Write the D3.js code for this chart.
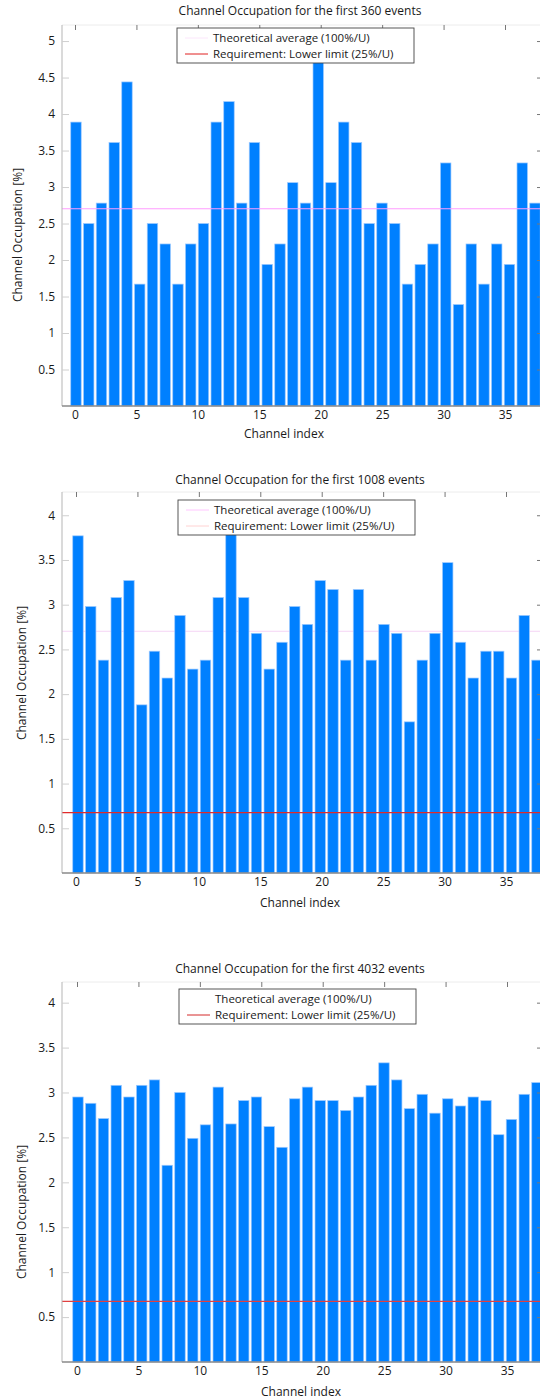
<!DOCTYPE html>
<html>
<head>
<meta charset="utf-8">
<script src="https://cdn.jsdelivr.net/npm/d3@7/dist/d3.min.js"></script>
<style>
  html, body { margin: 0; padding: 0; background: #fff; }
  svg { display: block; font-family: "Open Sans", sans-serif; }
</style>
</head>
<body>
<svg id="chart" width="540" height="1399"></svg>
<script>
// Channel indices 0..36 (U = 37 channels)
const channels = d3.range(37);
const xTickValues = [0, 5, 10, 15, 20, 25, 30, 35];

// Occupation per channel [%]
const occupation360 = [
  3.89, 2.50, 2.78, 3.61, 4.44, 1.67, 2.50, 2.22, 1.67, 2.22,
  2.50, 3.89, 4.17, 2.78, 3.61, 1.94, 2.22, 3.06, 2.78, 4.72,
  3.06, 3.89, 3.61, 2.50, 2.78, 2.50, 1.67, 1.94, 2.22, 3.33,
  1.39, 2.22, 1.67, 2.22, 1.94, 3.33, 2.78
];
const occupation1008 = [
  3.77, 2.98, 2.38, 3.08, 3.27, 1.88, 2.48, 2.18, 2.88, 2.28,
  2.38, 3.08, 3.87, 3.08, 2.68, 2.28, 2.58, 2.98, 2.78, 3.27,
  3.17, 2.38, 3.17, 2.38, 2.78, 2.68, 1.69, 2.38, 2.68, 3.47,
  2.58, 2.18, 2.48, 2.48, 2.18, 2.88, 2.38
];
const occupation4032 = [
  2.95, 2.88, 2.71, 3.08, 2.95, 3.08, 3.14, 2.19, 3.00, 2.49,
  2.64, 3.06, 2.65, 2.91, 2.95, 2.62, 2.39, 2.93, 3.06, 2.91,
  2.91, 2.80, 2.95, 3.08, 3.33, 3.14, 2.82, 2.98, 2.77, 2.93,
  2.85, 2.95, 2.91, 2.53, 2.70, 2.98, 3.11
];

const yTicks5 = [0.5, 1, 1.5, 2, 2.5, 3, 3.5, 4, 4.5, 5];
const yTicks4 = [0.5, 1, 1.5, 2, 2.5, 3, 3.5, 4];

const U = channels.length;
const theoreticalAverage = 100 / U;      // 100%/U
const lowerLimit = 25 / U;               // 25%/U

const legendLabels = ["Theoretical average (100%/U)", "Requirement: Lower limit (25%/U)"];

const svg = d3.select("#chart");
const FONT = "12px";

function drawPanel(o) {
  const g = svg.append("g");
  const left = 62, right = 542;

  const y = d3.scaleLinear().domain([0, o.yMax]).range([o.bottom, o.top]);
  const xBand = d3.scaleBand().domain(channels)
    .range([o.barStart, o.barStart + 12.75 * U]).paddingInner(0.18).paddingOuter(0.09);
  const xTick = d3.scaleLinear().domain([0, 35]).range([o.tick0, o.tick0 + 430]);

  // frame
  g.append("line").attr("x1", left).attr("x2", right).attr("y1", o.top).attr("y2", o.top)
    .attr("stroke", "#ececec").attr("stroke-width", 1);

  // theoretical average behind bars
  if (o.avgBehind) {
    g.append("line").attr("x1", left).attr("x2", right)
      .attr("y1", y(theoreticalAverage)).attr("y2", y(theoreticalAverage))
      .attr("stroke", o.avgColor).attr("stroke-width", 1);
  }

  // bars
  g.append("g").selectAll("rect").data(o.values).join("rect")
    .attr("x", (d, i) => xBand(i))
    .attr("width", xBand.bandwidth())
    .attr("y", d => y(d))
    .attr("height", d => y(0) - y(d))
    .attr("fill", "#0080ff")
    .attr("stroke", "#9cc9ff")
    .attr("stroke-width", 0.7);

  // overlay lines
  if (o.avgFront) {
    g.append("line").attr("x1", left).attr("x2", right)
      .attr("y1", y(theoreticalAverage)).attr("y2", y(theoreticalAverage))
      .attr("stroke", o.avgColor).attr("stroke-width", 1.2);
  }
  if (o.limitFront) {
    g.append("line").attr("x1", left).attr("x2", right)
      .attr("y1", y(lowerLimit)).attr("y2", y(lowerLimit))
      .attr("stroke", o.limitColor).attr("stroke-width", 1.2);
  }

  // left axis
  const yAxis = g.append("g").attr("transform", `translate(${left},0)`)
    .call(d3.axisRight(y).tickValues(o.yTicks).tickSize(7).tickFormat(d3.format("~g")));
  yAxis.select(".domain").attr("stroke", "#b5b5b5").attr("d", `M0,${o.top}V${o.bottom}`);
  yAxis.selectAll(".tick line").attr("stroke", "#cfcfcf");
  yAxis.selectAll(".tick text").attr("x", -7).attr("text-anchor", "end")
    .attr("fill", "#1a1a1a").style("font-size", FONT).style("font-family", "Open Sans");

  // right axis ticks at the plot edge
  const yAxisR = g.append("g").attr("transform", `translate(${right},0)`)
    .call(d3.axisLeft(y).tickValues(o.yTicks).tickSize(5).tickFormat(""));
  yAxisR.select(".domain").remove();
  yAxisR.selectAll(".tick line").attr("stroke", "#777");

  // bottom axis
  const xAxis = g.append("g").attr("transform", `translate(0,${o.bottom})`)
    .call(d3.axisBottom(xTick).tickValues(xTickValues).tickSize(0).tickPadding(4));
  xAxis.select(".domain").attr("stroke", "#8a8a8a").attr("stroke-width", 1.3)
    .attr("d", `M${left},0H${right}`);
  xAxis.selectAll(".tick text").attr("fill", "#1a1a1a")
    .style("font-size", FONT).style("font-family", "Open Sans");

  // top ticks
  const xTop = g.append("g").attr("transform", `translate(0,${o.top})`)
    .call(d3.axisBottom(xTick).tickValues(xTickValues).tickSize(5).tickFormat(""));
  xTop.select(".domain").remove();
  xTop.selectAll(".tick line").attr("stroke", "#777");

  // title & labels
  g.append("text").attr("x", 300).attr("y", o.titleY).attr("text-anchor", "middle")
    .attr("fill", "#1a1a1a").style("font-size", FONT).text(o.title);
  g.append("text").attr("x", o.xLabelX).attr("y", o.xLabelY).attr("text-anchor", "middle")
    .attr("fill", "#1a1a1a").style("font-size", FONT).text("Channel index");
  g.append("text").attr("transform", `translate(${o.yLabelX},${o.yLabelY}) rotate(-90)`)
    .attr("text-anchor", "middle").attr("fill", "#1a1a1a").style("font-size", FONT)
    .text("Channel Occupation [%]");

  // legend
  const lg = g.append("g").attr("transform", `translate(${o.legX},${o.legY})`);
  lg.append("rect").attr("width", 237).attr("height", 35)
    .attr("fill", "#fff").attr("stroke", "#444").attr("stroke-width", 0.9);
  const sampleColors = [o.legAvgColor, o.legLimitColor];
  legendLabels.forEach((t, i) => {
    const ry = 10 + i * 16;
    lg.append("line").attr("x1", 8).attr("x2", 31).attr("y1", ry).attr("y2", ry)
      .attr("stroke", sampleColors[i]).attr("stroke-width", 1);
    lg.append("text").attr("x", 36).attr("y", ry + 4).attr("fill", "#1a1a1a")
      .style("font-size", "11.5px").text(t);
  });
}

drawPanel({
  title: "Channel Occupation for the first 360 events", values: occupation360,
  top: 25, bottom: 406, yMax: 5.22, yTicks: yTicks5,
  barStart: 69.6, tick0: 75, titleY: 15,
  xLabelX: 284, xLabelY: 438, yLabelX: 22, yLabelY: 235,
  avgFront: true, avgColor: "#ff9cff", limitFront: false, limitColor: "#e02020",
  legX: 177, legY: 28,
  legAvgColor: "#fbe6fb", legLimitColor: "#e02020"
});

drawPanel({
  title: "Channel Occupation for the first 1008 events", values: occupation1008,
  top: 492, bottom: 873, yMax: 4.26, yTicks: yTicks4,
  barStart: 71.6, tick0: 76, titleY: 484,
  xLabelX: 300, xLabelY: 907, yLabelX: 26, yLabelY: 673,
  avgBehind: true, avgColor: "#f5d5f5", limitFront: true, limitColor: "#e02a2a",
  legX: 178, legY: 500,
  legAvgColor: "#ffc6ff", legLimitColor: "#ffd2d2"
});

drawPanel({
  title: "Channel Occupation for the first 4032 events", values: occupation4032,
  top: 982, bottom: 1362, yMax: 4.23, yTicks: yTicks4,
  barStart: 71.6, tick0: 77, titleY: 973,
  xLabelX: 301, xLabelY: 1396, yLabelX: 26, yLabelY: 1212,
  limitFront: true, limitColor: "#e04040",
  legX: 179, legY: 989,
  legAvgColor: "#ffffff", legLimitColor: "#d42a2a"
});
</script>
</body>
</html>
